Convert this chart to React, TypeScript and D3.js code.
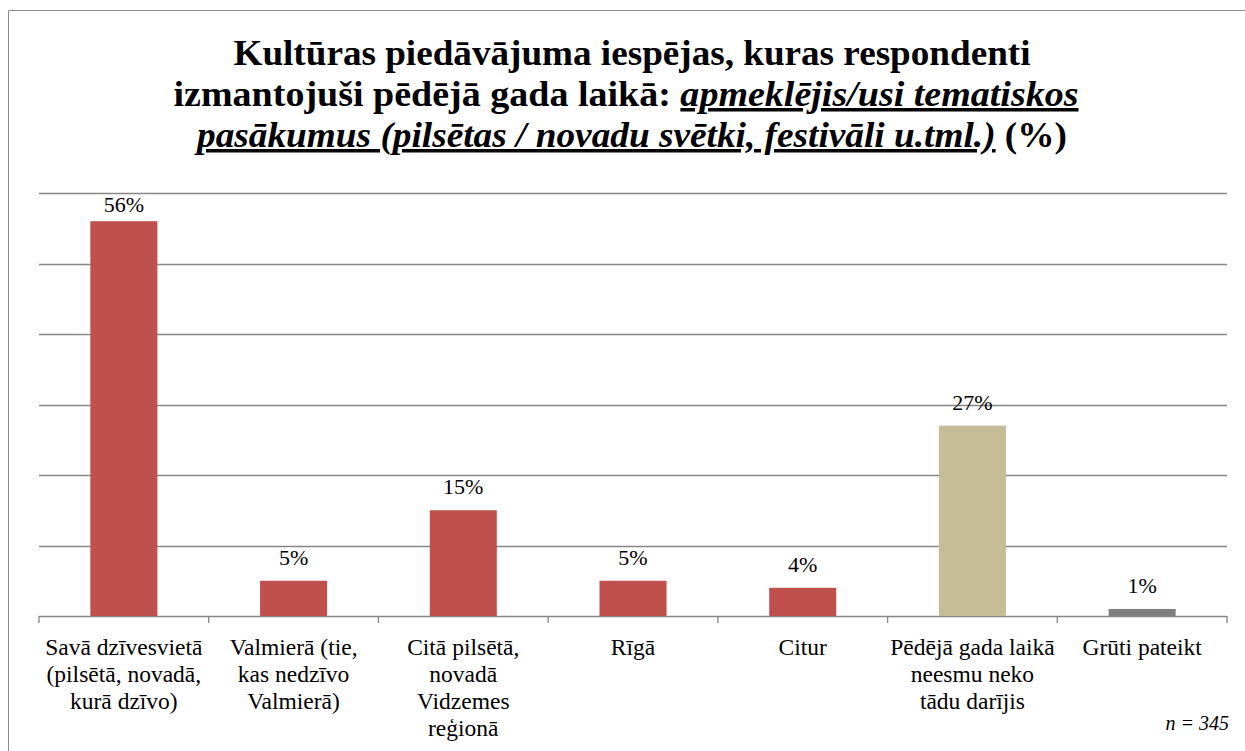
import React, { useEffect, useState } from 'react';
import * as d3 from 'd3';

const categories = [
  'Savā dzīvesvietā|(pilsētā, novadā,|kurā dzīvo)',
  'Valmierā (tie,|kas nedzīvo|Valmierā)',
  'Citā pilsētā,|novadā|Vidzemes|reģionā',
  'Rīgā',
  'Citur',
  'Pēdējā gada laikā|neesmu neko|tādu darījis',
  'Grūti pateikt',
];
const values = [56, 5, 15, 5, 4, 27, 1];
const groups = ['place', 'place', 'place', 'place', 'place', 'none', 'unsure'];
const gridTicks = [0, 10, 20, 30, 40, 50, 60];

const color = d3
  .scaleOrdinal<string, string>()
  .domain(['place', 'none', 'unsure'])
  .range(['#C0504D', '#C4BD97', '#7F7F7F']);

const width = 1245;
const height = 751;
const margin = { l: 39, r: 18, t: 193, b: 135 };

const FONT = "Liberation Serif, 'Times New Roman', Times, serif";

export default function App() {
  const [ver, setVer] = useState(0);

  // re-render once the serif faces are loaded, so the layout picks them up
  useEffect(() => {
    const fonts = (document as any).fonts;
    if (!fonts) return;
    Promise.all([
      fonts.load('22px "Liberation Serif"'),
      fonts.load('bold 35px "Liberation Serif"'),
      fonts.load('italic bold 35px "Liberation Serif"'),
      fonts.load('italic 20px "Liberation Serif"'),
    ])
      .then(() => setVer((v) => v + 1))
      .catch(() => setVer((v) => v + 1));
  }, []);

  const baseline = height - margin.b;

  const xScale = d3
    .scaleBand<string>()
    .domain(categories)
    .range([margin.l, width - margin.r])
    .paddingInner(0.605)
    .paddingOuter(0.3025);

  const yScale = d3.scaleLinear().domain([0, 60]).range([baseline, margin.t]);

  const step = xScale.step();
  const bw = xScale.bandwidth();
  const bounds = d3.range(categories.length + 1).map((i) => margin.l + i * step);

  return (
    <svg
      key={ver}
      width={width}
      height={height}
      fontFamily={FONT}
      style={{ position: 'absolute', left: 0, top: 0, background: '#fff' }}
    >
      {/* frame */}
      <path d={`M8.5,${height} V10.5 H${width}`} fill="none" stroke="#8c8c8c" strokeWidth={1} />

      {/* title */}
      <g fontFamily={FONT} fontWeight="bold" fontSize={35} textAnchor="middle" fill="#000">
        <text fontFamily={FONT} x={632} y={65} textLength={797} lengthAdjust="spacingAndGlyphs">
          Kultūras piedāvājuma iespējas, kuras respondenti
        </text>
        <text fontFamily={FONT} x={626} y={106} textLength={905} lengthAdjust="spacingAndGlyphs">
          <tspan>izmantojuši pēdējā gada laikā: </tspan>
          <tspan fontStyle="italic" textDecoration="underline">
            apmeklējis/usi tematiskos
          </tspan>
        </text>
        <text fontFamily={FONT} x={632} y={147} textLength={870} lengthAdjust="spacingAndGlyphs">
          <tspan fontStyle="italic" textDecoration="underline">
            pasākumus (pilsētas / novadu svētki, festivāli u.tml.)
          </tspan>
          <tspan> (%)</tspan>
        </text>
      </g>

      {/* grid */}
      <g stroke="#868686" strokeWidth={1.3}>
        {gridTicks.map((t) => (
          <line
            key={t}
            x1={margin.l}
            x2={width - margin.r}
            y1={Math.round(yScale(t)) + 0.5}
            y2={Math.round(yScale(t)) + 0.5}
          />
        ))}
        {bounds.map((b, i) => (
          <line key={i} x1={b} x2={b} y1={baseline} y2={baseline + 7} />
        ))}
      </g>

      {/* bars */}
      {categories.map((c, i) => (
        <rect
          key={c}
          x={xScale(c)}
          y={yScale(values[i])}
          width={bw}
          height={baseline - yScale(values[i])}
          fill={color(groups[i])}
        />
      ))}

      {/* value labels */}
      <g fontFamily={FONT} fontSize={22} textAnchor="middle" fill="#000">
        {categories.map((c, i) => (
          <text
            key={c}
            fontFamily={FONT}
            x={(xScale(c) as number) + bw / 2}
            y={Math.max(yScale(values[i]) - 16, yScale(60) + 19)}
          >
            {values[i]}%
          </text>
        ))}
      </g>

      {/* category labels */}
      <g fontFamily={FONT} fontSize={23.5} textAnchor="middle" fill="#000">
        {categories.map((c) => (
          <text key={c} fontFamily={FONT} x={(xScale(c) as number) + bw / 2} y={baseline + 39}>
            {c.split('|').map((line, j) => (
              <tspan key={j} x={(xScale(c) as number) + bw / 2} dy={j === 0 ? 0 : 27}>
                {line}
              </tspan>
            ))}
          </text>
        ))}
      </g>

      <text fontFamily={FONT} x={1229} y={730} fontSize={20} fontStyle="italic" textAnchor="end">
        n = 345
      </text>
    </svg>
  );
}
